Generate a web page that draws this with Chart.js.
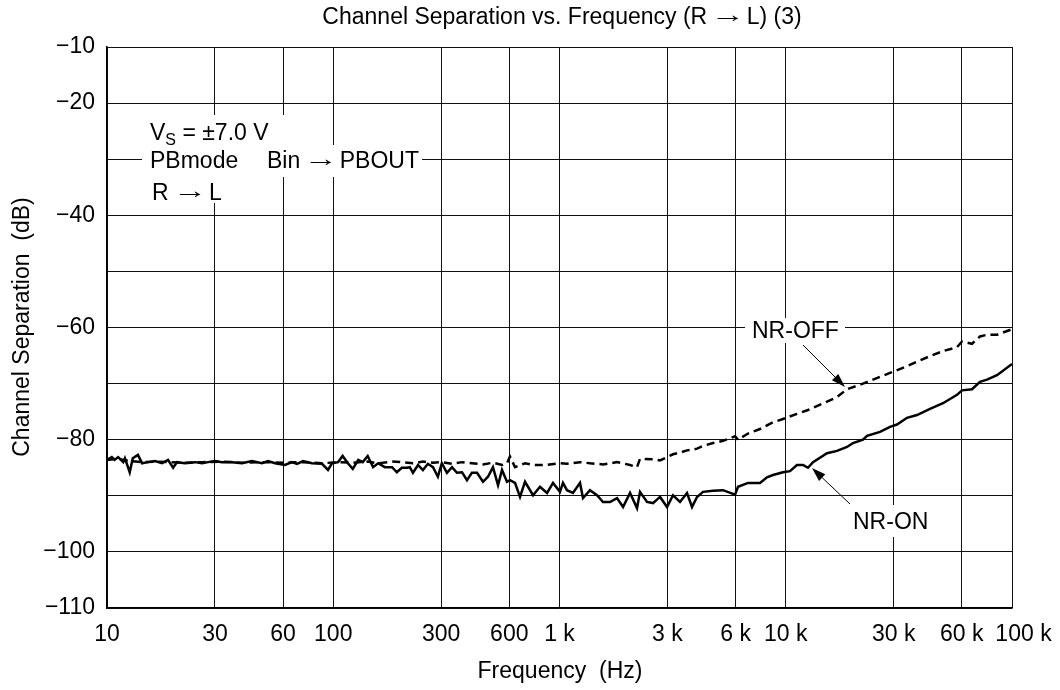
<!DOCTYPE html>
<html><head><meta charset="utf-8">
<script src="https://cdn.jsdelivr.net/npm/chart.js@4.4.0/dist/chart.umd.min.js"></script>
<style>html,body{margin:0;padding:0;background:#fff}#wrap{width:1060px;height:690px;position:relative}</style>
</head><body><div id="wrap"><canvas id="c" width="1060" height="690"></canvas></div>
<script>
// ---- data ----
const xTicks = [10,30,60,100,300,600,1000,3000,6000,10000,30000,60000,100000];
const xTickLabels = ['10','30','60','100','300','600','1 k','3 k','6 k','10 k','30 k','60 k','100 k'];
const yLabeled = [-10,-20,-40,-60,-80,-100,-110];

const nrOnFreq = [
  10,10.5,10.8,11.2,11.8,12.0,12.6,13.0,13.7,14.3,
  15.2,16.3,17.5,18.6,19.6,20.4,22.1,24.5,26.3,28.0,
  30.0,32.2,35.7,39.5,43.7,48.4,51.5,55.3,61.2,65.7,
  69.1,73.5,80.5,89.2,94.8,98.7,105,110,116,122,
  129,135,142,150,158,169,182,191,201,212,
  218,225,237,249,262,276,290,302,318,335,
  352,371,390,410,432,459,483,508,535,557,
  586,604,636,669,704,764,820,881,936,1005,
  1036,1079,1147,1232,1270,1364,1465,1557,1672,1796,
  1909,2050,2201,2269,2437,2590,2782,2987,3175,3409,
  3661,3852,4053,4309,4771,5282,5969,6152,6811,7696,
  8262,8782,9723,10440,11210,11920,12540,13200,15220,16850,
  18650,19830,21950,22870,26100,28890,31030,34350,38030,43410,
  49550,57140,60120,66560,72200,77540,85850,100000
];
const nrOnDb = [
  -83.6,-83.1,-83.6,-83.1,-84.0,-83.3,-85.8,-83.3,-82.7,-84.2,
  -84.0,-83.8,-84.2,-83.6,-85.0,-84.0,-84.2,-84.0,-84.2,-84.0,
  -83.8,-84.0,-84.0,-84.2,-83.8,-84.2,-83.8,-84.2,-84.5,-84.0,
  -84.3,-83.8,-84.2,-84.3,-85.4,-84.2,-84.0,-82.9,-84.2,-85.2,
  -83.6,-84.0,-82.9,-84.9,-84.2,-84.9,-84.9,-85.8,-85.0,-85.0,
  -84.9,-85.9,-84.5,-85.4,-84.3,-84.9,-86.6,-84.2,-85.9,-84.9,
  -85.9,-85.8,-87.2,-85.9,-85.9,-87.5,-86.6,-84.9,-88.1,-85.4,
  -87.5,-87.2,-87.7,-90.2,-87.5,-89.9,-88.4,-89.5,-87.7,-89.3,
  -87.7,-89.0,-89.5,-87.7,-90.4,-89.0,-89.9,-91.1,-91.1,-90.4,
  -92.0,-89.5,-92.2,-89.3,-91.1,-91.3,-90.2,-92.0,-89.9,-91.1,
  -89.5,-92.0,-90.2,-89.3,-89.1,-89.0,-89.8,-88.4,-87.7,-87.7,
  -86.7,-86.3,-85.8,-85.6,-84.5,-84.5,-85.0,-84.0,-82.4,-82.0,
  -81.3,-80.6,-80.0,-79.3,-78.6,-77.7,-77.3,-76.1,-75.6,-74.5,
  -73.5,-72.0,-71.2,-71.0,-69.7,-69.3,-68.5,-66.5
];

const nrOffFreq = [
  10,11.2,12.6,14.3,16.3,18.6,22.1,26.3,32.2,39.5,
  48.4,61.2,73.5,89.2,105,122,142,158,182,201,
  225,249,276,302,335,371,410,459,508,557,
  586,604,636,704,764,881,1005,1079,1232,1364,
  1557,1796,2050,2201,2269,2590,2782,2987,3175,3409,
  3661,3852,4053,4309,4771,5282,5969,6152,6811,7696,
  8782,9723,11210,12540,15220,16850,18650,21950,26100,28890,
  34350,38030,43410,49550,57140,60120,66560,72200,77540,85850,100000
];
const nrOffDb = [
  -83.6,-83.4,-83.8,-84.0,-83.9,-84.0,-84.1,-84.0,-83.9,-84.1,
  -84.0,-84.1,-84.0,-84.2,-84.0,-84.1,-83.9,-84.2,-83.9,-84.0,
  -84.2,-83.9,-84.1,-84.0,-84.3,-84.0,-84.2,-84.4,-84.1,-84.5,
  -84.2,-83.0,-84.9,-84.2,-84.5,-84.5,-84.2,-84.3,-84.0,-84.2,
  -84.4,-84.0,-84.5,-84.9,-83.4,-83.5,-83.7,-83.1,-82.6,-82.3,
  -81.9,-81.8,-81.6,-81.1,-80.6,-80.2,-79.4,-80.0,-78.9,-78.1,
  -76.9,-76.3,-75.4,-74.7,-73.2,-72.4,-71.0,-70.0,-68.8,-68.1,
  -66.9,-66.1,-65.1,-64.2,-63.5,-62.5,-62.9,-61.6,-61.3,-61.3,-60.3
];

const FONT_FAMILY = '"Liberation Sans", Arial, Helvetica, sans-serif';
const FS = 23;

function arrow(ctx, x1, y1, x2, y2) {
  const ang = Math.atan2(y2 - y1, x2 - x1);
  const hl = 14, hw = 4.5;
  ctx.beginPath();
  ctx.moveTo(x1, y1);
  ctx.lineTo(x2 - hl * Math.cos(ang), y2 - hl * Math.sin(ang));
  ctx.lineWidth = 1;
  ctx.strokeStyle = '#000';
  ctx.stroke();
  ctx.beginPath();
  ctx.moveTo(x2, y2);
  ctx.lineTo(x2 - hl * Math.cos(ang) + hw * Math.sin(ang), y2 - hl * Math.sin(ang) - hw * Math.cos(ang));
  ctx.lineTo(x2 - hl * Math.cos(ang) - hw * Math.sin(ang), y2 - hl * Math.sin(ang) + hw * Math.cos(ang));
  ctx.closePath();
  ctx.fillStyle = '#000';
  ctx.fill();
}

// draw text made of parts; part = {t, sx (horizontal stretch), gap (extra space after), size, dy}
function drawParts(ctx, parts, x, y, align) {
  const widths = parts.map(p => {
    ctx.font = (p.size || FS) + 'px ' + FONT_FAMILY;
    return ctx.measureText(p.t).width * (p.sx || 1) + (p.gap || 0);
  });
  const total = widths.reduce((a, b) => a + b, 0);
  let cx = align === 'center' ? x - total / 2 : x;
  ctx.textAlign = 'left';
  parts.forEach((p, i) => {
    ctx.font = (p.size || FS) + 'px ' + FONT_FAMILY;
    ctx.save();
    ctx.translate(cx, y + (p.dy || 0));
    ctx.scale(p.sx || 1, 1);
    ctx.fillText(p.t, 0, 0);
    ctx.restore();
    cx += widths[i];
  });
}

const ARROW = { t: '\u2192', sx: 1.5, gap: 2, dy: -2 };

const notes = {
  id: 'notes',
  afterDraw(chart) {
    const ctx = chart.ctx;
    ctx.save();
    ctx.fillStyle = '#000';
    ctx.textBaseline = 'alphabetic';
    drawParts(ctx, [{ t: 'Channel Separation vs. Frequency (R', gap: 3 }, ARROW, { t: 'L) (3)' }], 562, 24, 'center');
    drawParts(ctx, [{ t: 'Frequency  (Hz)' }], 560, 678, 'center');
    ctx.save();
    ctx.translate(29, 327);
    ctx.rotate(-Math.PI / 2);
    drawParts(ctx, [{ t: 'Channel Separation  (dB)' }], 0, 0, 'center');
    ctx.restore();

    // condition box (white backgrounds per line)
    ctx.fillStyle = '#fff';
    ctx.fillRect(142, 115, 150, 30);
    ctx.fillRect(142, 145, 280, 32);
    ctx.fillRect(142, 177, 90, 26);
    ctx.fillStyle = '#000';
    drawParts(ctx, [{ t: 'V' }, { t: 'S', size: 16, dy: 5 }, { t: ' = \u00b17.0 V' }], 150, 140, 'left');
    drawParts(ctx, [{ t: 'PBmode' }], 150, 168, 'left');
    drawParts(ctx, [{ t: 'Bin', gap: 3 }, ARROW, { t: 'PBOUT' }], 267, 168, 'left');
    drawParts(ctx, [{ t: 'R', gap: 4 }, ARROW, { t: 'L' }], 152, 200, 'left');

    // curve labels
    ctx.fillStyle = '#fff';
    ctx.fillRect(745, 318, 100, 25);
    ctx.fillRect(847, 505, 88, 32);
    ctx.fillStyle = '#000';
    drawParts(ctx, [{ t: 'NR-OFF' }], 752, 338, 'left');
    drawParts(ctx, [{ t: 'NR-ON' }], 853, 529, 'left');
    arrow(ctx, 803, 345, 845, 387);
    arrow(ctx, 850, 504, 812, 468);
    ctx.restore();
  }
};

const ctx = document.getElementById('c').getContext('2d');
new Chart(ctx, {
  type: 'scatter',
  data: {
    datasets: [
      {
        label: 'NR-ON',
        data: nrOnFreq.map((f, i) => ({ x: f, y: nrOnDb[i] })),
        showLine: true,
        borderColor: '#000',
        borderWidth: 2.5,
        pointRadius: 0,
        tension: 0
      },
      {
        label: 'NR-OFF',
        data: nrOffFreq.map((f, i) => ({ x: f, y: nrOffDb[i] })),
        showLine: true,
        borderColor: '#000',
        borderWidth: 2.5,
        borderDash: [8, 5],
        pointRadius: 0,
        tension: 0
      }
    ]
  },
  options: {
    responsive: false,
    animation: false,
    devicePixelRatio: 1,
    layout: { padding: { top: 47, right: 48, bottom: 0, left: 0 } },
    plugins: { legend: { display: false }, tooltip: { enabled: false }, title: { display: false } },
    scales: {
      x: {
        type: 'logarithmic',
        min: 10,
        max: 100000,
        afterBuildTicks: (s) => { s.ticks = xTicks.map(v => ({ value: v })); },
        afterFit: (s) => { s.height = 82; s.paddingLeft = 0; s.paddingRight = 0; },
        ticks: {
          autoSkip: false,
          maxRotation: 0,
          minRotation: 0,
          padding: 13,
          color: '#000',
          font: { size: FS, family: FONT_FAMILY },
          callback: (v) => {
            const i = xTicks.indexOf(v);
            if (i < 0) return '';
            // last label sits a little to the right of its grid line, as in the original
            return i === xTicks.length - 1 ? '\u2003' + xTickLabels[i] : xTickLabels[i];
          }
        },
        grid: { color: '#111', lineWidth: 1, drawTicks: false },
        border: { display: true, color: '#000', width: 1.5 }
      },
      y: {
        type: 'linear',
        min: -110,
        max: -10,
        afterFit: (s) => { s.width = 107; s.paddingTop = 0; s.paddingBottom = 0; },
        ticks: {
          stepSize: 10,
          padding: 12,
          color: '#000',
          font: { size: FS, family: FONT_FAMILY },
          callback: (v) => yLabeled.includes(v) ? '\u2212' + Math.abs(v) : ''
        },
        grid: { color: '#111', lineWidth: 1, drawTicks: false },
        border: { display: true, color: '#000', width: 1.5 }
      }
    }
  },
  plugins: [notes]
});
</script>
</body></html>
